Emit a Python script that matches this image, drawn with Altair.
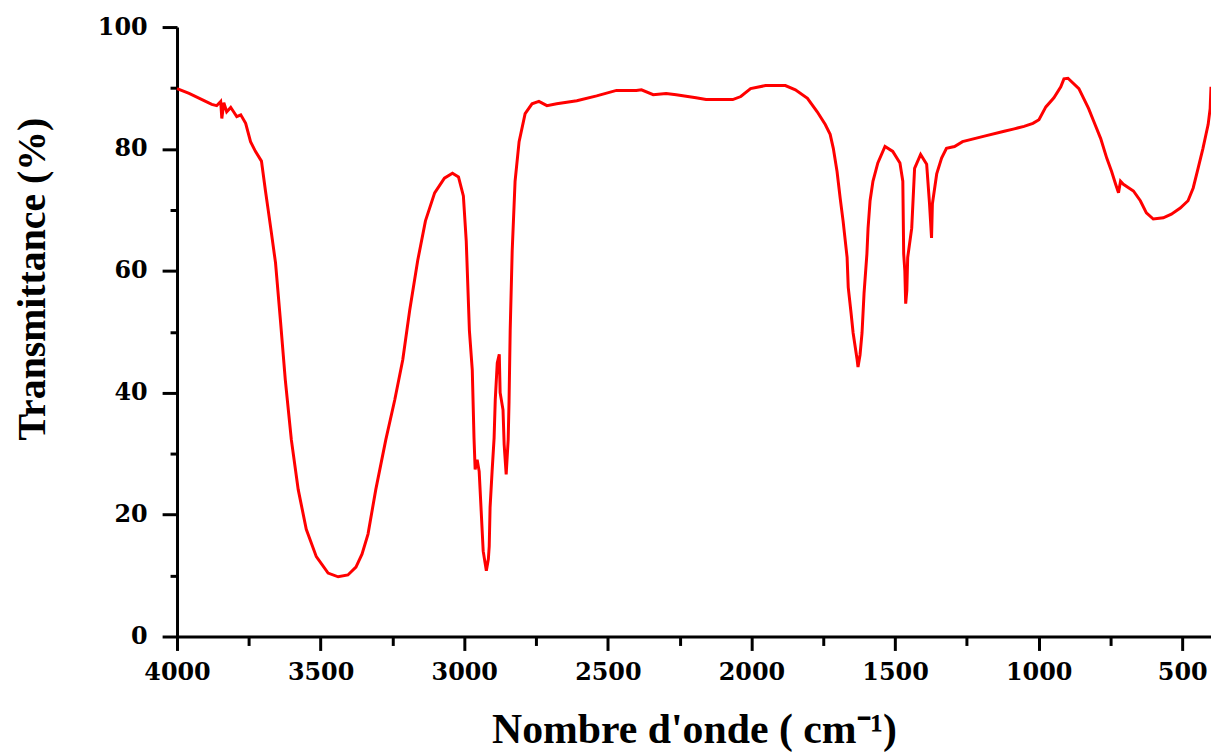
import altair as alt
import pandas as pd

wavenumber = [4000, 3958, 3913, 3879, 3862, 3848, 3844, 3837, 3827, 3813, 3803, 3792, 3778,
              3761, 3744, 3727, 3706, 3692, 3682, 3671, 3657, 3640, 3623, 3602, 3578, 3550,
              3515, 3474, 3439, 3405, 3377, 3356, 3335, 3308, 3273, 3242, 3214, 3190, 3162,
              3135, 3103, 3069, 3041, 3020, 3003, 2993, 2982, 2972, 2966, 2962, 2955, 2948,
              2941, 2934, 2923, 2916, 2913, 2910, 2903, 2896, 2892, 2885, 2878, 2875, 2865,
              2861, 2854, 2847, 2844, 2840, 2833, 2823, 2809, 2788, 2764, 2740, 2712, 2678,
              2608, 2539, 2470, 2401, 2383, 2342, 2297, 2262, 2193, 2158, 2065, 2037, 2003,
              1951, 1882, 1847, 1805, 1771, 1743, 1726, 1715, 1702, 1691, 1681, 1667, 1663,
              1653, 1646, 1632, 1629, 1622, 1615, 1608, 1598, 1594, 1587, 1577, 1560, 1535,
              1508, 1483, 1473, 1470, 1466, 1463, 1459, 1456, 1442, 1432, 1411, 1390, 1380,
              1373, 1370, 1355, 1338, 1321, 1293, 1265, 1189, 1120, 1085, 1051, 1020, 999,
              975, 947, 923, 912, 898, 860, 826, 808, 784, 763, 746, 732, 722, 715, 705, 670,
              646, 625, 601, 566, 538, 507, 480, 462, 445, 428, 417, 410, 403, 400]
transmittance = [89.9, 89.1, 88.1, 87.3, 87.1, 87.8, 85.0, 87.6, 86.1, 86.8, 86.1, 85.3, 85.6,
                 84.2, 81.2, 79.6, 78.0, 73.1, 69.8, 66.1, 61.3, 51.9, 42.1, 32.3, 24.1, 17.6,
                 13.1, 10.4, 9.8, 10.1, 11.4, 13.5, 16.8, 24.1, 32.3, 38.8, 45.4, 53.5, 61.7,
                 68.2, 72.8, 75.2, 76.0, 75.4, 72.3, 64.9, 50.2, 43.7, 32.6, 27.4, 29.0, 27.1,
                 20.6, 14.0, 10.8, 12.7, 14.8, 21.2, 27.1, 32.6, 38.8, 44.9, 46.3, 40.0, 37.2,
                 31.5, 26.6, 32.3, 38.5, 50.2, 63.3, 74.7, 81.2, 85.8, 87.4, 87.8, 87.1, 87.4,
                 87.9, 88.7, 89.6, 89.6, 89.7, 88.9, 89.1, 88.9, 88.4, 88.1, 88.1, 88.6, 89.9,
                 90.4, 90.4, 89.7, 88.3, 86.1, 84.0, 82.4, 80.1, 76.3, 71.9, 68.2, 62.2, 57.3,
                 53.0, 49.8, 45.4, 44.2, 46.2, 49.8, 56.3, 62.8, 67.0, 71.5, 74.7, 77.7, 80.4,
                 79.6, 77.7, 74.7, 62.8, 60.0, 54.6, 56.8, 62.2, 67.0, 76.8, 79.1, 77.5, 71.0,
                 65.4, 71.0, 75.9, 78.5, 80.1, 80.4, 81.2, 82.1, 82.9, 83.3, 83.7, 84.2, 84.8,
                 86.9, 88.4, 90.2, 91.5, 91.6, 89.9, 86.6, 84.5, 81.7, 78.5, 76.3, 74.2, 72.8,
                 74.7, 74.2, 73.1, 71.5, 69.5, 68.5, 68.7, 69.3, 70.3, 71.5, 73.6, 76.8, 80.1,
                 82.5, 84.0, 86.6, 90.2]

x_major = [4000, 3500, 3000, 2500, 2000, 1500, 1000, 500]
x_minor = [3750, 3250, 2750, 2250, 1750, 1250, 750]
y_major = [0, 20, 40, 60, 80, 100]
y_minor = [10, 30, 50, 70, 90]

df = pd.DataFrame({"wn": wavenumber, "T": transmittance})

tick_font = "DejaVu Serif"
title_font = "Liberation Serif"

xscale = alt.Scale(domain=[4000, 400], nice=False, zero=False)
yscale = alt.Scale(domain=[0, 100], nice=False)

main = alt.Chart(df).mark_line(color="#ff0000", strokeWidth=3).encode(
    x=alt.X("wn:Q", scale=xscale,
            axis=alt.Axis(orient="bottom", values=x_major, format="d", grid=False,
                          domainColor="black", domainWidth=3, tickColor="black",
                          tickWidth=3, tickSize=14, labelFont=tick_font, labelFontSize=24,
                          labelFontWeight="bold", labelColor="black", labelPadding=10,
                          labelFlush=False, labelOverlap=False,
                          title="Nombre d'onde ( cm⁻¹)", titleFont=title_font,
                          titleFontSize=42, titleFontWeight="bold", titleColor="black",
                          titleBaseline="alphabetic", titleY=107)),
    y=alt.Y("T:Q", scale=yscale,
            axis=alt.Axis(orient="left", values=y_major, format="d", grid=False,
                          domainColor="black", domainWidth=3, tickColor="black",
                          tickWidth=3, tickSize=15, labelFont=tick_font, labelFontSize=24,
                          labelFontWeight="bold", labelColor="black", labelPadding=15,
                          labelFlush=False, labelOverlap=False,
                          title="Transmittance (%)", titleFont=title_font,
                          titleFontSize=40, titleFontWeight="bold", titleColor="black",
                          titleAngle=270, titleBaseline="alphabetic", titleAlign="center",
                          titleX=-133, titleY=253)),
)

minor = alt.Chart(df).mark_line(opacity=0).encode(
    x=alt.X("wn:Q", scale=xscale,
            axis=alt.Axis(orient="bottom", values=x_minor, labels=False, domain=False,
                          grid=False, tickColor="black", tickWidth=3, tickSize=9,
                          title=None)),
    y=alt.Y("T:Q", scale=yscale,
            axis=alt.Axis(orient="left", values=y_minor, labels=False, domain=False,
                          grid=False, tickColor="black", tickWidth=3, tickSize=7,
                          title=None)),
)

chart = alt.layer(minor, main).resolve_axis(x="independent", y="independent").properties(
    width=1040,
    height=613,
    autosize=alt.AutoSizeParams(type="none"),
    padding={"left": 170, "top": 17, "right": 0, "bottom": 114},
    background="white",
).configure_view(stroke=None)

chart.save("out.html", embed_options={"renderer": "svg", "actions": False})
